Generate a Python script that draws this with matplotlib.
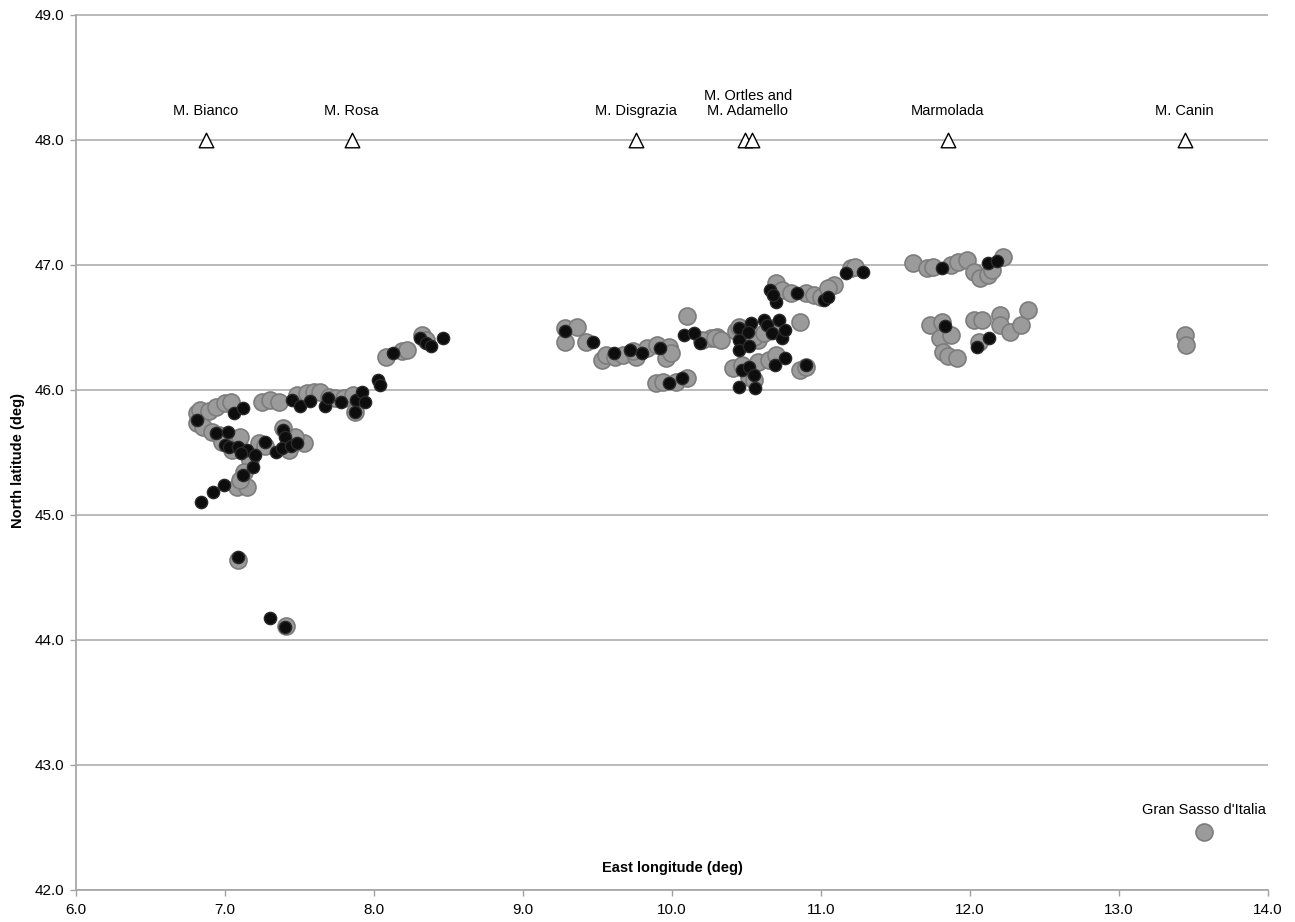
import matplotlib
matplotlib.use("Agg")
import matplotlib.pyplot as plt

plt.rcParams["font.family"] = ["Liberation Sans", "DejaVu Sans"]

# Grey points (lon, lat)
GREY_LON = [
    6.81, 6.83, 6.89, 6.94, 7.00, 7.04, 6.81, 6.85, 6.91, 6.96, 7.03, 7.10, 6.98, 7.05,
    7.17, 7.13, 7.08, 7.15, 7.10, 7.23, 7.27, 7.53, 7.47, 7.39, 7.43,
    7.25, 7.30, 7.36, 7.48, 7.55, 7.60, 7.64, 7.70, 7.74, 7.80, 7.86, 7.87,
    8.08, 8.19, 8.22, 8.32, 8.35, 7.09, 7.41,
    9.28, 9.36, 9.28, 9.42, 9.53, 9.56, 9.62, 9.67, 9.76, 9.83, 9.90, 9.98, 9.96, 9.99,
    9.89, 9.94, 10.03, 10.10, 10.10, 10.26, 10.30, 10.20, 9.74,
    10.29, 10.33, 10.43, 10.50, 10.58, 10.55, 10.62, 10.70, 10.86, 10.86, 10.90, 10.41,
    10.47, 10.58, 10.65, 10.70, 10.52, 10.55, 10.45,
    10.70, 10.74, 10.80, 10.90, 10.95, 11.00, 11.09, 11.05, 11.20, 11.23,
    11.62, 11.71, 11.75, 11.87, 11.92, 11.98, 12.03, 12.07, 12.12, 12.15, 12.22,
    11.73, 11.81, 11.80, 11.87, 11.82, 11.85, 11.91, 12.03, 12.08, 12.06, 12.20, 12.20,
    12.27, 12.34, 12.39,
    13.44, 13.45, 13.57,
]
GREY_LAT = [
    45.81, 45.84, 45.83, 45.86, 45.89, 45.90, 45.73, 45.70, 45.66, 45.64, 45.62, 45.62, 45.58, 45.52,
    45.44, 45.34, 45.22, 45.22, 45.28, 45.57, 45.55, 45.57, 45.62, 45.69, 45.52,
    45.90, 45.92, 45.90, 45.96, 45.97, 45.98, 45.98, 45.94, 45.93, 45.93, 45.96, 45.82,
    46.26, 46.31, 46.32, 46.44, 46.40, 44.64, 44.11,
    46.49, 46.50, 46.38, 46.38, 46.24, 46.28, 46.26, 46.28, 46.26, 46.33, 46.36, 46.34, 46.25, 46.29,
    46.05, 46.06, 46.06, 46.09, 46.59, 46.41, 46.42, 46.40, 46.31,
    46.41, 46.40, 46.47, 46.45, 46.40, 46.42, 46.45, 46.50, 46.54, 46.16, 46.18, 46.17,
    46.20, 46.22, 46.24, 46.28, 46.10, 46.08, 46.50,
    46.85, 46.80, 46.77, 46.77, 46.76, 46.74, 46.84, 46.81, 46.97, 46.98,
    47.01, 46.97, 46.98, 47.00, 47.02, 47.04, 46.94, 46.89, 46.92, 46.96, 47.06,
    46.52, 46.54, 46.41, 46.44, 46.30, 46.27, 46.25, 46.56, 46.56, 46.38, 46.60, 46.52,
    46.46, 46.52, 46.64,
    46.44, 46.36, 42.46,
]

# Black points (lon, lat)
BLACK_LON = [
    6.81, 7.06, 7.12, 6.94, 7.02, 7.00, 7.03, 7.09, 7.15, 7.11, 7.20, 7.19, 7.12,
    6.84, 6.92, 6.99, 7.27, 7.39, 7.40, 7.34, 7.38, 7.44, 7.48,
    7.45, 7.50, 7.57, 7.67, 7.69, 7.78, 7.88, 7.92, 7.94, 7.87, 8.03, 8.04,
    8.13, 8.31, 8.35, 8.38, 8.46, 7.09, 7.30, 7.40,
    9.28, 9.47, 9.61, 9.72, 9.80, 9.92, 9.98, 10.07, 10.08, 10.15, 10.19,
    10.66, 10.70, 10.68, 10.84, 11.02, 11.05, 11.17, 11.28,
    10.45, 10.53, 10.51, 10.45, 10.45, 10.52, 10.62, 10.64, 10.72, 10.67, 10.74, 10.76,
    10.47, 10.52, 10.55, 10.69, 10.76, 10.90, 10.45, 10.56,
    11.81, 12.12, 12.18, 11.83, 12.05, 12.13,
]
BLACK_LAT = [
    45.76, 45.81, 45.85, 45.65, 45.66, 45.56, 45.54, 45.54, 45.52, 45.49, 45.48, 45.38, 45.32,
    45.10, 45.18, 45.24, 45.58, 45.68, 45.62, 45.50, 45.53, 45.55, 45.57,
    45.92, 45.87, 45.91, 45.87, 45.93, 45.90, 45.92, 45.98, 45.90, 45.82, 46.08, 46.04,
    46.29, 46.41, 46.37, 46.35, 46.41, 44.66, 44.17, 44.10,
    46.47, 46.38, 46.29, 46.32, 46.29, 46.33, 46.05, 46.09, 46.44, 46.45, 46.37,
    46.80, 46.70, 46.76, 46.77, 46.72, 46.74, 46.93, 46.94,
    46.49, 46.53, 46.46, 46.40, 46.32, 46.35, 46.56, 46.52, 46.56, 46.45, 46.41, 46.48,
    46.16, 46.18, 46.12, 46.20, 46.25, 46.20, 46.02, 46.01,
    46.97, 47.01, 47.03, 46.51, 46.34, 46.41,
]

# Mountain reference markers
PEAK_LON = [6.87, 7.85, 9.76, 10.49, 10.54, 11.85, 13.44]
PEAK_LAT = [48.0] * len(PEAK_LON)
PEAK_NAMES = ["M. Bianco", "M. Rosa", "M. Disgrazia", "M. Ortles and\nM. Adamello",
              "Marmolada", "M. Canin"]
PEAK_LABEL_LON = [6.87, 7.85, 9.76, 10.51, 11.85, 13.44]


fig = plt.figure(figsize=(12.95, 9.22), dpi=100)
ax = fig.add_axes([76 / 1295, 1 - 889.5 / 922, (1268 - 76) / 1295, 875 / 922])

ax.scatter(GREY_LON, GREY_LAT, s=150, facecolor="#9b9b9b", edgecolor="#7c7c7c",
           linewidth=1.2, zorder=3)
ax.scatter(BLACK_LON, BLACK_LAT, s=78, facecolor="#0d0d0d", edgecolor="#2a2a2a",
           linewidth=1.0, zorder=4)
ax.scatter(PEAK_LON, PEAK_LAT, s=110, marker="^", facecolor="white", edgecolor="black",
           linewidth=1.0, zorder=5)

for name, lon in zip(PEAK_NAMES, PEAK_LABEL_LON):
    ax.text(lon, 48.17, name, ha="center", va="bottom", fontsize=10.5,
            linespacing=1.1, zorder=6)
ax.text(13.57, 42.58, "Gran Sasso d'Italia", ha="center", va="bottom", fontsize=10.5)

ax.text(10.0, 42.17, "East longitude (deg)", ha="center", va="center",
        fontsize=10.5, fontweight="bold")
fig.text(18 / 1295, 0.5, "North latitude (deg)", rotation=90, ha="center", va="center",
         fontsize=10.5, fontweight="bold")

ax.set_xlim(6.0, 14.0)
ax.set_ylim(42.0, 49.0)
ax.set_xticks([6, 7, 8, 9, 10, 11, 12, 13, 14])
ax.set_yticks([42, 43, 44, 45, 46, 47, 48, 49])
ax.xaxis.set_major_formatter(matplotlib.ticker.FormatStrFormatter("%.1f"))
ax.yaxis.set_major_formatter(matplotlib.ticker.FormatStrFormatter("%.1f"))
ax.tick_params(axis="both", labelsize=11, length=4, width=1.0, color="#a0a0a0")
ax.tick_params(axis="x", pad=6)
ax.tick_params(axis="y", pad=4.5)
ax.grid(axis="y", color="#b4b4b4", linewidth=1.3)
ax.set_axisbelow(True)
for side in ["top", "right"]:
    ax.spines[side].set_visible(False)
for side in ["left", "bottom"]:
    ax.spines[side].set_color("#a8a8a8")
    ax.spines[side].set_linewidth(1.3)

fig.savefig("out.png", dpi=100)
